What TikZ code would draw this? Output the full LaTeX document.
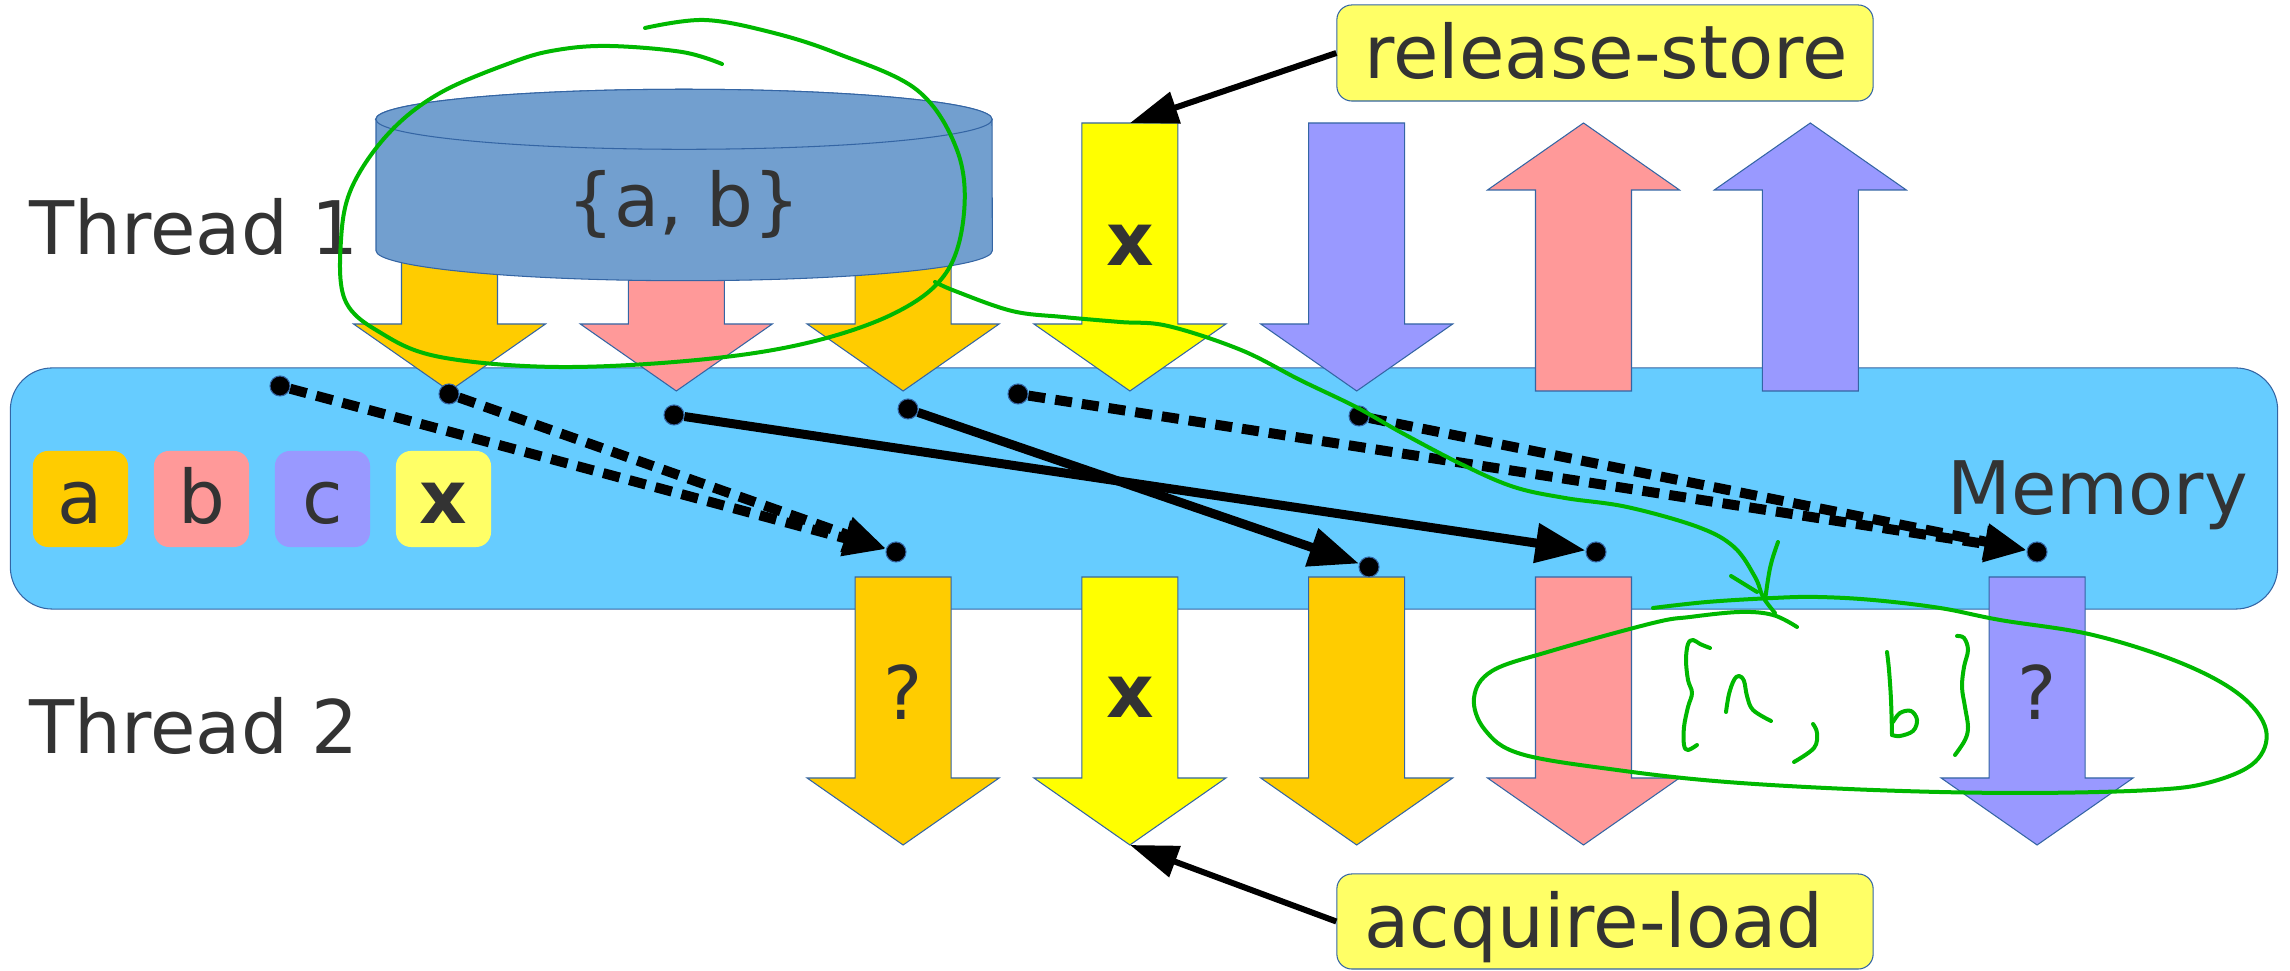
\documentclass[tikz,border=0pt]{standalone}
\usepackage{fontspec}
\setmainfont{DejaVu Sans}
\usetikzlibrary{arrows.meta}
\definecolor{orangeA}{HTML}{FFCC00}
\definecolor{pinkA}{HTML}{FF9999}
\definecolor{purpleA}{HTML}{9999FF}
\definecolor{yellowA}{HTML}{FFFF00}
\definecolor{tagyellow}{HTML}{FFFF66}
\definecolor{memblue}{HTML}{66CCFF}
\definecolor{cylblue}{HTML}{729FCF}
\definecolor{edgeblue}{HTML}{3465A4}
\definecolor{textgray}{HTML}{333333}
\definecolor{inkgreen}{HTML}{00B800}
\begin{document}
\begin{tikzpicture}[x=0.01cm, y=-0.01cm,
  txt/.style={font=\fontsize{21}{25}\selectfont, text=textgray, inner sep=0pt},
  boldtxt/.style={txt, font=\fontsize{21}{25}\selectfont\bfseries},
  blockedge/.style={draw=edgeblue, line width=0.3pt},
  pics/downarr/.style={code={\path[blockedge, fill=#1] (-48,0) -- (48,0) -- (48,201) -- (96,201) -- (0,268) -- (-96,201) -- (-48,201) -- cycle;}},
  pics/uparr/.style={code={\path[blockedge, fill=#1] (0,0) -- (96,67) -- (48,67) -- (48,268) -- (-48,268) -- (-48,67) -- (-96,67) -- cycle;}},
  memdot/.style={circle, fill=black, draw=edgeblue, line width=0.3pt, inner sep=0pt, minimum size=0.20cm},
  solidlink/.style={line width=0.09cm, -{Triangle[length=0.50cm, width=0.38cm]}},
  dashlink/.style={line width=0.10cm, dash pattern=on 0.17cm off 0.10cm, -{Triangle[length=0.42cm, width=0.34cm]}},
  callout/.style={line width=0.06cm, -{Triangle[length=0.48cm, width=0.32cm]}},
  inkstroke/.style={draw=inkgreen, line width=0.04cm, line cap=round, line join=round},
  tagbox/.style={blockedge, fill=tagyellow, rounded corners=0.15cm, inner sep=0pt, minimum width=5.36cm},
  keybox/.style={rounded corners=0.15cm, minimum width=0.95cm, minimum height=0.96cm, inner sep=0pt}
]
\useasboundingbox (0,0) rectangle (2290,971);

% shared memory
\node[blockedge, fill=memblue, rounded corners=0.42cm, minimum width=22.66cm,
      minimum height=2.41cm, inner sep=0pt] (mem) at (1144,488.5) {};

% thread 1 operations
\pic at (449.5,123) {downarr=orangeA};
\pic at (676.3,123) {downarr=pinkA};
\pic at (903.1,123) {downarr=orangeA};
\pic at (1129.9,123) {downarr=yellowA};
\pic at (1356.7,123) {downarr=purpleA};
\pic at (1583.5,123) {uparr=pinkA};
\pic at (1810.3,123) {uparr=purpleA};

% cylinder holding {a, b}
\path[blockedge, fill=cylblue] (376,119.3) -- (376,250.7)
  arc[start angle=180, end angle=360, x radius=3.08cm, y radius=0.30cm]
  -- (992,119.3)
  arc[start angle=0, end angle=180, x radius=3.08cm, y radius=0.30cm] -- cycle;
\path[blockedge, fill=cylblue] (684,119.3) ellipse [x radius=3.08cm, y radius=0.30cm];
\node[txt, anchor=base] (cyllbl) at (684,227) {\{a, b\}};

% thread 2 operations
\pic at (903.1,577) {downarr=orangeA};
\pic at (1129.9,577) {downarr=yellowA};
\pic at (1356.7,577) {downarr=orangeA};
\pic at (1583.5,577) {downarr=pinkA};
\pic at (2037.1,577) {downarr=purpleA};

\node[boldtxt, anchor=base] (xtop) at (1130,266) {x};
\node[boldtxt, anchor=base] (xbot) at (1130,718) {x};
\node[txt, anchor=base] (qa) at (903,720) {?};
\node[txt, anchor=base] (qc) at (2037,720) {?};

% labels
\node[txt, anchor=base west] (th1) at (29,255) {Thread 1};
\node[txt, anchor=base west] (th2) at (29,754) {Thread 2};
\node[txt, anchor=base west] (memlbl) at (1947,515) {Memory};

% legend of variables
\node[keybox, fill=orangeA] (ka) at (80.5,499) {};
\node[keybox, fill=pinkA] (kb) at (201.5,499) {};
\node[keybox, fill=purpleA] (kc) at (322.5,499) {};
\node[keybox, fill=tagyellow] (kx) at (443.5,499) {};
\node[txt, anchor=base] (kat) at (80.5,524) {a};
\node[txt, anchor=base] (kbt) at (201.5,524) {b};
\node[txt, anchor=base] (kct) at (322.5,524) {c};
\node[boldtxt, anchor=base] (kxt) at (443.5,524) {x};

% visibility of stores
\node[memdot] (s1) at (280,386) {};
\node[memdot] (s2) at (449,394) {};
\node[memdot] (s3) at (674,415) {};
\node[memdot] (s4) at (908,409) {};
\node[memdot] (s5) at (1018,394) {};
\node[memdot] (s6) at (1359,416) {};
\node[memdot] (t1) at (896,552) {};
\node[memdot] (t2) at (1369,567) {};
\node[memdot] (t3) at (1596,552) {};
\node[memdot] (t4) at (2037,552) {};

\draw[dashlink] (s1) -- (t1);
\draw[dashlink] (s2) -- (t1);
\draw[solidlink] (s3) -- (t3);
\draw[solidlink] (s4) -- (t2);
\draw[dashlink] (s5) -- (t4);
\draw[dashlink] (s6) -- (t4);

% ordering callouts
\node[tagbox, minimum height=0.96cm] (rel) at (1605,53) {};
\node[txt, anchor=base west] (reltxt) at (1364,79) {release-store};
\node[tagbox, minimum height=0.95cm] (acq) at (1605,921.5) {};
\node[txt, anchor=base west] (acqtxt) at (1364,948) {acquire-load};
\coordinate (relend) at (1130,123);
\coordinate (acqend) at (1130,845);
\draw[callout] (rel.west) -- (relend);
\draw[callout] (acq.west) -- (acqend);

% handwritten notes
\draw[inkstroke] plot[smooth, tension=0.6] coordinates {(645,28) (704,20) (770,32) (836,53) (917,90) (957,150) (964,213) (946,273) (895,313) (807,343) (697,360) (557,367) (440,357) (381,333) (345,300) (341,240) (352,187) (389,133) (440,93) (513,62) (557,50) (609,46) (682,52) (722,64)};
\draw[inkstroke] plot[smooth, tension=0.6] coordinates {(935,282) (955,291) (1012,311) (1063,317) (1120,322) (1168,326) (1241,350) (1300,380) (1356,407) (1402,433) (1463,465) (1514,487) (1565,498) (1627,507) (1698,527) (1734,547) (1755,577) (1763,597) (1775,613)};
\draw[inkstroke] (1778,542) .. controls (1770,565) .. (1765,600);
\draw[inkstroke] (1731,576) -- (1757,592);
\draw[inkstroke] plot[smooth, tension=0.6] coordinates {(1653,608) (1707,602) (1773,598) (1817,597) (1873,600) (1940,608) (2000,620) (2093,635) (2181,663) (2240,695) (2266,730) (2255,762) (2211,782) (2152,790) (2020,793) (1873,790) (1727,782) (1617,770) (1521,754) (1485,730) (1474,698) (1492,671) (1551,651) (1653,623) (1690,617) (1740,612) (1773,615) (1797,627)};
\draw[inkstroke] plot[smooth, tension=0.6] coordinates {(1710,648) (1700,644) (1693,640) (1688,644) (1686,660) (1688,680) (1692,693) (1688,707) (1684,727) (1684,745) (1688,750) (1697,745)};
\draw[inkstroke] plot[smooth, tension=0.6] coordinates {(1726,712) (1729,694) (1734,680) (1739,676) (1744,681) (1747,696) (1753,710) (1771,721)};
\draw[inkstroke] plot[smooth, tension=0.6] coordinates {(1813,724) (1817,733) (1814,748) (1794,762)};
\draw[inkstroke] plot[smooth, tension=0.6] coordinates {(1887,652) (1889,670) (1891,700) (1892,735)};
\draw[inkstroke] plot[smooth, tension=0.6] coordinates {(1893,722) (1900,713) (1911,711) (1917,720) (1913,731) (1900,736) (1892,735)};
\draw[inkstroke] plot[smooth, tension=0.6] coordinates {(1957,636) (1964,638) (1968,650) (1964,667) (1962,687) (1965,707) (1968,727) (1965,740) (1955,755)};
\end{tikzpicture}
\end{document}
